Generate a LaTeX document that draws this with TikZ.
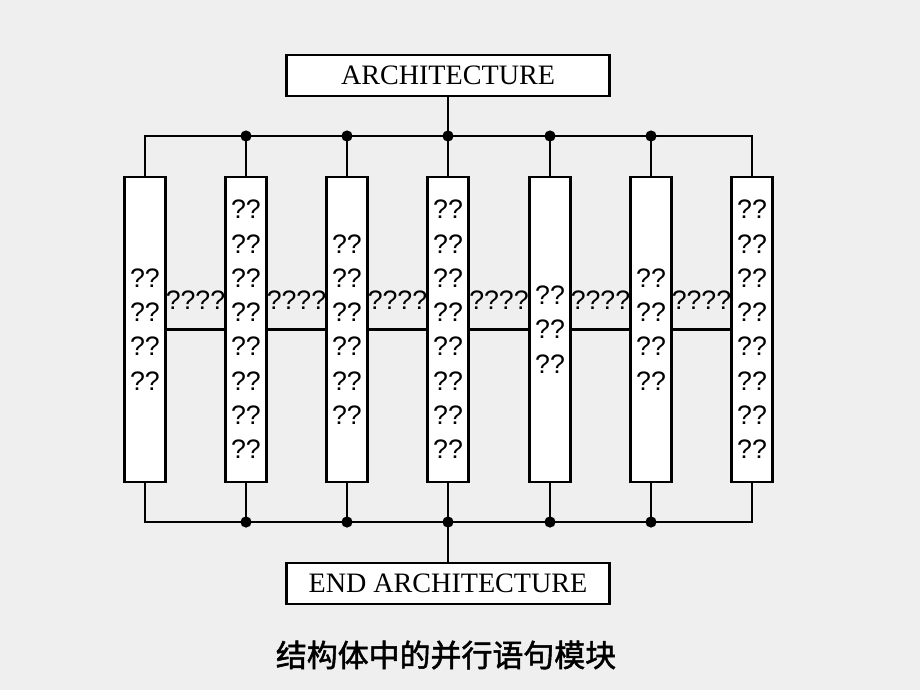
\documentclass[tikz,border=0pt]{standalone}
\usepackage{fontspec}
\setmainfont{Liberation Serif}
\newfontfamily\qfont{Liberation Sans}
\newfontfamily\cjk[FakeBold=1.6]{Noto Sans CJK SC}
\usetikzlibrary{calc}
\definecolor{bgcol}{RGB}{239,239,239}
\tikzset{
	unit/.style={draw, fill=white, line width=1.5pt, minimum width=1.025cm, minimum height=7.625cm, inner sep=0pt, align=center, font=\qfont\fontsize{19}{24.4}\selectfont},
	archbox/.style={draw, fill=white, line width=1.5pt, minimum width=8.075cm, minimum height=1.025cm, inner sep=0pt, font=\fontsize{20}{24}\selectfont},
	wire/.style={line width=1.5pt},
	sig/.style={font=\qfont\fontsize{19}{24}\selectfont, inner sep=0pt}
}

\begin{document}
\begin{tikzpicture}
		%%%%% START %%%%%
		
		\fill[bgcol] (0, 0) rectangle (23, -17.25);
		\useasboundingbox (0, 0) rectangle (23, -17.25);
		
		\node[archbox] (arch) at (11.2, -1.8875) {ARCHITECTURE};
		\node[archbox] (endarch) at (11.2, -14.5875) {END ARCHITECTURE};
		
		\node[unit] (b1) at (3.625, -8.2375) {??\\??\\??\\??};
		\node[unit] (b2) at (6.15, -8.2375) {??\\??\\??\\??\\??\\??\\??\\??};
		\node[unit] (b3) at (8.675, -8.2375) {??\\??\\??\\??\\??\\??};
		\node[unit] (b4) at (11.2, -8.2375) {??\\??\\??\\??\\??\\??\\??\\??};
		\node[unit] (b5) at (13.75, -8.2375) {??\\??\\??};
		\node[unit] (b6) at (16.275, -8.2375) {??\\??\\??\\??};
		\node[unit] (b7) at (18.8, -8.2375) {??\\??\\??\\??\\??\\??\\??\\??};
		
		\coordinate (topbus) at (11.2, -3.4);
		\coordinate (botbus) at (11.2, -13.05);
		
		% top bus
		\draw[wire] (arch.south) -- (topbus);
		\draw[wire] (b1.north) |- (topbus) -| (b7.north);
		\draw[wire] (b2.north) -- (b2.north |- topbus);
		\draw[wire] (b3.north) -- (b3.north |- topbus);
		\draw[wire] (b4.north) -- (b4.north |- topbus);
		\draw[wire] (b5.north) -- (b5.north |- topbus);
		\draw[wire] (b6.north) -- (b6.north |- topbus);
		\fill (b2.north |- topbus) circle (0.14);
		\fill (b3.north |- topbus) circle (0.14);
		\fill (b4.north |- topbus) circle (0.14);
		\fill (b5.north |- topbus) circle (0.14);
		\fill (b6.north |- topbus) circle (0.14);
		
		% bottom bus
		\draw[wire] (endarch.north) -- (botbus);
		\draw[wire] (b1.south) |- (botbus) -| (b7.south);
		\draw[wire] (b2.south) -- (b2.south |- botbus);
		\draw[wire] (b3.south) -- (b3.south |- botbus);
		\draw[wire] (b4.south) -- (b4.south |- botbus);
		\draw[wire] (b5.south) -- (b5.south |- botbus);
		\draw[wire] (b6.south) -- (b6.south |- botbus);
		\fill (b2.south |- botbus) circle (0.14);
		\fill (b3.south |- botbus) circle (0.14);
		\fill (b4.south |- botbus) circle (0.14);
		\fill (b5.south |- botbus) circle (0.14);
		\fill (b6.south |- botbus) circle (0.14);
		
		% links between the units
		\draw[wire] (b1.east) -- node[sig, above=0.47cm] (s12) {????} (b2.west);
		\draw[wire] (b2.east) -- node[sig, above=0.47cm] (s23) {????} (b3.west);
		\draw[wire] (b3.east) -- node[sig, above=0.47cm] (s34) {????} (b4.west);
		\draw[wire] (b4.east) -- node[sig, above=0.47cm] (s45) {????} (b5.west);
		\draw[wire] (b5.east) -- node[sig, above=0.47cm] (s56) {????} (b6.west);
		\draw[wire] (b6.east) -- node[sig, above=0.47cm] (s67) {????} (b7.west);
		
		\node[font=\cjk\fontsize{22}{26}\selectfont] (caption) at (11.15, -16.375) {结构体中的并行语句模块};
		
		%%%%% END %%%%%
	\end{tikzpicture}
\end{document}
